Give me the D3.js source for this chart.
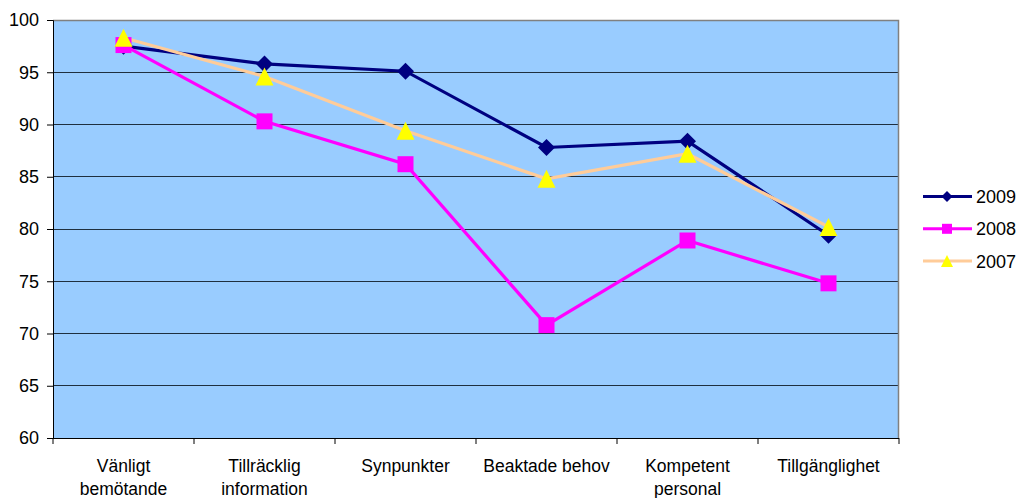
<!DOCTYPE html>
<html><head><meta charset="utf-8">
<script src="https://cdn.jsdelivr.net/npm/d3@7"></script>
<style>body{margin:0;background:#fff;}svg{display:block;font-family:"Liberation Sans",Arial,sans-serif;}</style>
</head><body>
<svg id="c" width="1019" height="498"></svg>
<script>
const categories = [["Vänligt","bemötande"],["Tillräcklig","information"],["Synpunkter"],["Beaktade behov"],["Kompetent","personal"],["Tillgänglighet"]];
const s2009 = [97.5, 95.8, 95.1, 87.8, 88.4, 79.4];
const s2008 = [97.6, 90.3, 86.2, 70.8, 78.9, 74.8];
const s2007 = [98.3, 94.6, 89.4, 84.8, 87.2, 80.2];
const yTicks = [60,65,70,75,80,85,90,95,100];
const seriesNames = ["2009","2008","2007"];

const svg = d3.select("#c");
const L=53, T=20, R=899, B=438;
const x = d3.scaleBand().domain(d3.range(categories.length)).range([L,R]);
const y = d3.scaleLinear().domain([60,100]).range([B,T]);

svg.append("rect").attr("x",L).attr("y",T).attr("width",R-L).attr("height",B-T).attr("fill","#99CCFF");
svg.append("g").selectAll("line").data(yTicks.filter(d=>d>60&&d<100)).join("line")
  .attr("x1",L).attr("x2",R).attr("y1",d=>y(d)).attr("y2",d=>y(d)).attr("stroke","#1f2f3f").attr("stroke-width",1).attr("shape-rendering","crispEdges");
svg.append("path").attr("d",`M${L},${T+0.5}H${R-0.5}V${B}`).attr("fill","none").attr("stroke","#808080").attr("stroke-width",1.5);

const ya = svg.append("g").attr("transform",`translate(${L},0)`).call(d3.axisLeft(y).tickValues(yTicks).tickSize(6).tickPadding(8));
ya.select(".domain").attr("stroke","#000");
ya.selectAll("text").attr("font-size",18).attr("fill","#000").attr("font-family","Liberation Sans, Arial, sans-serif");
const xt = d3.range(categories.length+1).map(i=>L+i*x.bandwidth());
const xg = svg.append("g");
xg.append("line").attr("x1",L).attr("x2",R).attr("y1",B+0.5).attr("y2",B+0.5).attr("stroke","#000");
xg.selectAll("line.t").data(xt).join("line").attr("class","t").attr("x1",d=>d).attr("x2",d=>d).attr("y1",B).attr("y2",B+6).attr("stroke","#000");
xg.selectAll("text").data(categories).join("text")
  .attr("text-anchor","middle").attr("font-size",17.5).attr("fill","#000")
  .attr("transform",(d,i)=>`translate(${x(i)+x.bandwidth()/2},${B+34})`)
  .selectAll("tspan").data(d=>d).join("tspan").attr("x",0).attr("dy",(d,i)=>i?22.5:0).text(d=>d);

function marker(kind, s){
  const h=s/2;
  if(kind==="diamond") return `M0,${-h}L${h},0L0,${h}L${-h},0Z`;
  if(kind==="square") return `M${-h},${-h}H${h}V${h}H${-h}Z`;
  return `M0,${-h}L${h},${h}H${-h}Z`;
}
const cx = i=>x(i)+x.bandwidth()/2;
const line = d3.line().x((d,i)=>cx(i)).y(d=>y(d));
const series = [
  {data:s2009, color:"#000080", mk:"#000080", kind:"diamond", size:17},
  {data:s2008, color:"#FF00FF", mk:"#FF00FF", kind:"square", size:16},
  {data:s2007, color:"#FFCC99", mk:"#FFFF00", kind:"triangle", size:18}
];
series.forEach(s=>{
  svg.append("path").attr("d",line(s.data)).attr("fill","none").attr("stroke",s.color).attr("stroke-width",3.2);
});
series.forEach(s=>{
  svg.append("g").selectAll("path").data(s.data).join("path")
    .attr("d",marker(s.kind,s.size)).attr("fill",s.mk)
    .attr("transform",(d,i)=>`translate(${cx(i)},${y(d)})`);
});
const lg = svg.append("g");
series.forEach((s,i)=>{
  const yy = 196.5 + i*32.3;
  lg.append("line").attr("x1",923).attr("x2",972).attr("y1",yy).attr("y2",yy).attr("stroke",s.color).attr("stroke-width",3);
  lg.append("path").attr("d",marker(s.kind, s.kind==="triangle"?12:(s.kind==="diamond"?11:10))).attr("fill",s.mk).attr("transform",`translate(947,${yy})`);
  lg.append("text").attr("x",976).attr("y",yy+6.5).attr("font-size",18).attr("fill","#000").text(seriesNames[i]);
});
</script>
</body></html>
